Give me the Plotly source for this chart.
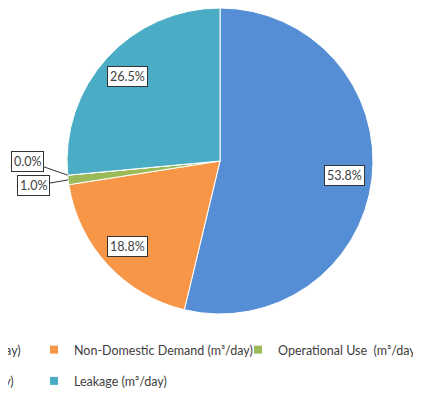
import math
import plotly.graph_objects as go

# ---- data ----
categories = [
    "Domestic Demand (m³/day)",
    "Non-Domestic Demand (m³/day)",
    "Operational Use  (m³/day)",
    "Unbilled Demand (m³/day)",
    "Leakage (m³/day)",
]
shares = [53.8, 18.8, 1.0, 0.0, 26.5]
colors = ["#558ED5", "#F79646", "#9BBB59", "#8064A2", "#4BACC6"]

W, H = 413, 385
FONT = "Lato"
TXT = "#404040"
dom_x = [59 / W, 365 / W]
dom_y = [1 - 306 / H, 1.0]

fig = go.Figure()
fig.add_trace(go.Pie(
    labels=categories, values=shares, sort=False, direction="clockwise",
    rotation=0, marker=dict(colors=colors, line=dict(color="white", width=1)),
    textinfo="none", hoverinfo="label+value", showlegend=False,
    domain=dict(x=dom_x, y=dom_y),
))

# legend entries (same categories / colours), laid out in three columns
legend_of = ["legend2", "legend", "legend3", "legend2", "legend"]
for i, (name, col) in enumerate(zip(categories, colors)):
    fig.add_trace(go.Scatter(
        x=[None], y=[None], mode="markers", name=name,
        marker=dict(symbol="square", size=8, color=col),
        legend=legend_of[i], legendgroup=f"g{i}",
        hoverinfo="skip",
    ))

# data labels computed from the shares
total = sum(shares)
cx = (dom_x[0] + dom_x[1]) / 2 * W
cy = (1 - (dom_y[0] + dom_y[1]) / 2) * H
R = min((dom_x[1] - dom_x[0]) * W, (dom_y[1] - dom_y[0]) * H) / 2
small_offsets = {2: (-35, 6), 3: (-40, -14)}
cum = 0.0
for i, v in enumerate(shares):
    theta = 2 * math.pi * (cum + v / 2) / total
    cum += v
    r = R if i in small_offsets else 0.82 * R
    px = cx + r * math.sin(theta)
    py = cy - r * math.cos(theta)
    ann = dict(
        x=px / W, y=1 - py / H, xref="paper", yref="paper",
        xanchor="center", yanchor="middle",
        text=f"{v:.1f}%", font=dict(family=FONT, size=12.5, color=TXT),
        bgcolor="white", bordercolor="#333333", borderwidth=1, borderpad=2,
    )
    if i in small_offsets:
        ax, ay = small_offsets[i]
        ann.update(showarrow=True, ax=ax, ay=ay, arrowhead=0,
                   arrowwidth=1, arrowcolor="#333333", standoff=0)
    else:
        ann.update(showarrow=False)
    fig.add_annotation(**ann)

leg_common = dict(
    orientation="v", xanchor="left", yanchor="top", y=1 - 327 / H,
    traceorder="grouped", tracegroupgap=12,
    font=dict(family=FONT, size=12.5, color=TXT), bgcolor="rgba(0,0,0,0)",
)
fig.update_layout(
    width=W, height=H,
    margin=dict(l=0, r=0, t=0, b=0, autoexpand=False),
    paper_bgcolor="white", plot_bgcolor="white",
    xaxis=dict(visible=False), yaxis=dict(visible=False),
    font=dict(family=FONT, size=12.5, color=TXT),
    legend=dict(x=26 / W, **leg_common),
    legend2=dict(x=-178 / W, **leg_common),
    legend3=dict(x=230 / W, **leg_common),
)

fig.write_html("out.html")
